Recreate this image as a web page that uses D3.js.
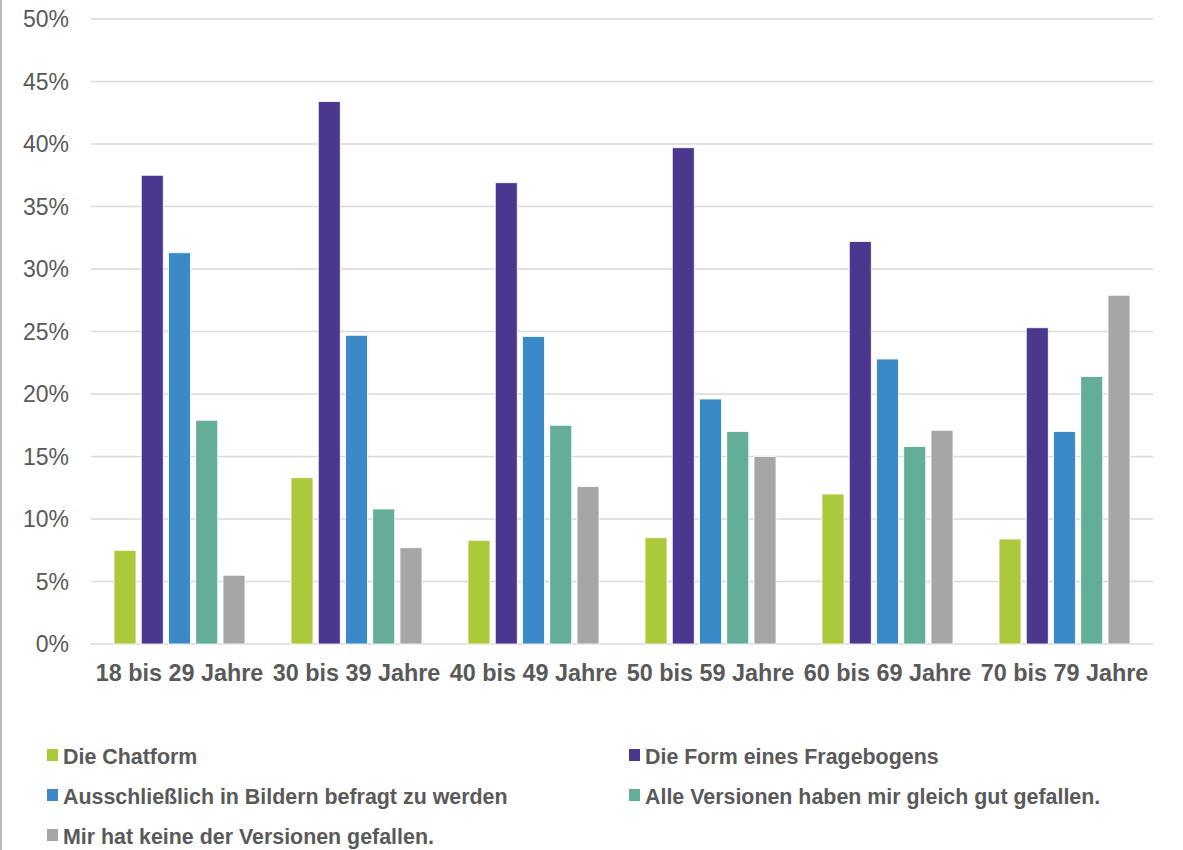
<!DOCTYPE html>
<html><head><meta charset="utf-8">
<script src="https://cdn.jsdelivr.net/npm/d3@7"></script>
<style>
html,body{margin:0;padding:0;background:#fff;}
svg{display:block;font-family:"Liberation Sans",Arial,sans-serif;}
</style></head>
<body><svg id="chart" width="1183" height="850"></svg>
<script>
const categories = ["18 bis 29 Jahre","30 bis 39 Jahre","40 bis 49 Jahre","50 bis 59 Jahre","60 bis 69 Jahre","70 bis 79 Jahre"];
const seriesNames = ["Die Chatform","Die Form eines Fragebogens","Ausschließlich in Bildern befragt zu werden","Alle Versionen haben mir gleich gut gefallen.","Mir hat keine der Versionen gefallen."];
const chatform      = [7.5, 13.3, 8.3, 8.5, 12.0, 8.4];
const fragebogen    = [37.5, 43.4, 36.9, 39.7, 32.2, 25.3];
const bilder        = [31.3, 24.7, 24.6, 19.6, 22.8, 17.0];
const alleGleich    = [17.9, 10.8, 17.5, 17.0, 15.8, 21.4];
const keine         = [5.5, 7.7, 12.6, 15.0, 17.1, 27.9];
const yTicks = [0,5,10,15,20,25,30,35,40,45,50];
const colors = ["#abc93b","#4b388e","#3c89c8","#64ae99","#a6a6a6"];

const seriesValues = [chatform, fragebogen, bilder, alleGleich, keine];
const svg = d3.select("#chart");

const x0 = d3.scaleBand().domain(categories).range([91,1153]).paddingInner(0).paddingOuter(0);
const x1 = d3.scaleBand().domain(seriesNames).range([0, x0.bandwidth()]).paddingInner(0.193).paddingOuter(0.844);
const y = d3.scaleLinear().domain([0,50]).range([644,19]);

// left border
svg.append("line").attr("x1",1).attr("x2",1).attr("y1",0).attr("y2",850)
  .attr("stroke","#a0a0a0").attr("stroke-width",1.5);

// gridlines
svg.append("g").selectAll("line").data(yTicks).join("line")
  .attr("x1",91).attr("x2",1153)
  .attr("y1",d=>y(d)).attr("y2",d=>y(d))
  .attr("stroke","#d9d9d9").attr("stroke-width",1.3);

// y tick labels
svg.append("g").selectAll("text").data(yTicks).join("text")
  .attr("x",69).attr("y",d=>y(d)).attr("dy","0.35em")
  .attr("text-anchor","end").attr("fill","#595959")
  .style("font-size","23px")
  .text(d=>d+"%");

// bars
const groups = svg.append("g").selectAll("g").data(categories).join("g")
  .attr("transform",c=>`translate(${x0(c)},0)`);
groups.selectAll("rect").data((c,i)=>seriesNames.map((s,j)=>({s,j,v:seriesValues[j][i]}))).join("rect")
  .attr("x",d=>x1(d.s)).attr("width",x1.bandwidth())
  .attr("y",d=>y(d.v)).attr("height",d=>y(0)-y(d.v))
  .attr("fill",d=>colors[d.j]).attr("stroke","#fff").attr("stroke-width",0.8);

// x labels
svg.append("g").selectAll("text").data(categories).join("text")
  .attr("x",c=>x0(c)+x0.bandwidth()/2).attr("y",681)
  .attr("text-anchor","middle").attr("fill","#595959")
  .style("font-size","23.4px").style("font-weight","bold")
  .text(c=>c);

// legend
const legendPos = [[47,764],[629,764],[47,804],[629,804],[47,844]];
const lg = svg.append("g").selectAll("g").data(seriesNames).join("g")
  .attr("transform",(d,i)=>`translate(${legendPos[i][0]},${legendPos[i][1]})`);
lg.append("rect").attr("x",0).attr("y",-15).attr("width",11).attr("height",12)
  .attr("fill",(d,i)=>colors[i]);
lg.append("text").attr("x",16).attr("y",0).attr("fill","#595959")
  .style("font-size","21.4px").style("font-weight","bold")
  .text(d=>d);
</script></body></html>
